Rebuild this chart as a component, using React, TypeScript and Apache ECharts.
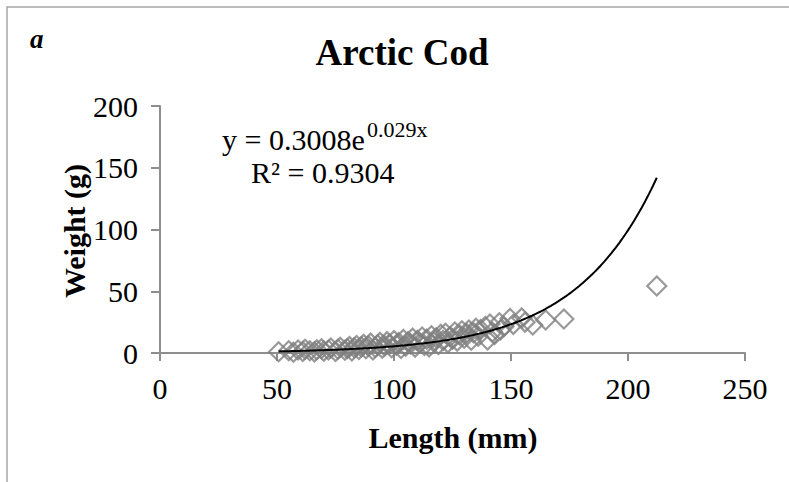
import React, { useEffect, useRef } from "react";
import * as echarts from "echarts";

// Scatter data: fish length (mm) and weight (g)
const lengthMm = [
  50.7, 55, 57, 59, 61, 62, 64, 66, 67, 69, 70, 72, 73, 75, 76, 77, 79, 80, 81, 82,
  83, 84, 85, 86, 87, 88, 89, 90, 91, 92, 93, 94, 95, 96, 97, 98, 99, 100, 101, 102,
  103, 104, 105, 106, 107, 108, 109, 110, 111, 112, 113, 114, 115, 116, 117, 118, 119, 120, 121, 122,
  123, 124, 125, 126, 127, 128, 129, 130, 131, 132, 133, 134, 135, 136, 137, 139, 140, 141, 142, 143,
  145, 145.5, 147, 149.6, 151, 154.6, 156, 159.3, 164.8, 172.6, 212.3,
];
const weightG = [
  1.0, 1.8, 0.6, 2.4, 1.2, 3.0, 1.8, 0.9, 2.6, 3.4, 1.5, 2.4, 4.0, 1.2, 3.0, 4.6, 2.2, 3.6, 5.2, 1.6,
  4.2, 6.0, 2.8, 5.0, 7.0, 3.4, 5.8, 8.0, 2.4, 4.4, 6.6, 8.6, 3.8, 5.8, 9.2, 7.2, 4.2, 10.0, 6.4, 8.4,
  3.6, 11.0, 5.6, 9.2, 7.4, 12.0, 4.8, 10.2, 8.0, 13.0, 6.2, 11.2, 5.0, 14.0, 9.0, 12.4, 7.0, 15.2, 10.2, 16.0,
  8.2, 13.2, 11.2, 17.0, 9.6, 14.6, 18.0, 12.0, 15.8, 18.6, 10.4, 16.4, 20.0, 13.6, 19.0, 21.5, 10.6, 23.5, 17.0, 15.0,
  24.5, 18.6, 21.5, 28.0, 23.2, 28.4, 25.0, 22.7, 26.7, 27.5, 54.2,
];

// Exponential trendline shown in the chart: y = 0.3008 e^(0.029 x)
const trendA = 0.3008;
const trendB = 0.029;

const titleText = "Arctic Cod";
const panelLabel = "a";
const xAxisName = "Length (mm)";
const yAxisName = "Weight (g)";
const eqMain = "y = 0.3008e";
const eqSup = "0.029x";
const eqR2 = "R\u00B2 = 0.9304";

const SERIF = '"Liberation Serif", "Times New Roman", Times, serif';

export default function App() {
  const ref = useRef<HTMLDivElement>(null);
  useEffect(() => {
    if (!ref.current) return;
    const chart = echarts.init(ref.current, null, { renderer: "svg" });

    const scatterData = lengthMm.map((x, i) => [x, weightG[i]]);
    const xMin = Math.min(...lengthMm);
    const xMax = Math.max(...lengthMm);
    const trend: number[][] = [];
    const steps = 200;
    for (let i = 0; i <= steps; i++) {
      const x = xMin + ((xMax - xMin) * i) / steps;
      trend.push([x, trendA * Math.exp(trendB * x)]);
    }

    const axisColor = "#8e8e8e";

    chart.setOption({
      animation: false,
      backgroundColor: "#ffffff",
      grid: { left: 160, right: 44, top: 106, bottom: 129 },
      xAxis: {
        type: "value",
        min: 0,
        max: 250,
        interval: 50,
        axisLine: { show: true, onZero: false, lineStyle: { color: axisColor, width: 2 } },
        axisTick: { show: true, length: 8, lineStyle: { color: axisColor, width: 2 } },
        splitLine: { show: false },
        axisLabel: { color: "#000", fontFamily: SERIF, fontSize: 30, margin: 20 },
      },
      yAxis: {
        type: "value",
        min: 0,
        max: 200,
        interval: 50,
        axisLine: { show: true, lineStyle: { color: axisColor, width: 2 } },
        axisTick: { show: true, length: 9, lineStyle: { color: axisColor, width: 2 } },
        splitLine: { show: false },
        axisLabel: { color: "#000", fontFamily: SERIF, fontSize: 30, margin: 22 },
      },
      series: [
        {
          type: "scatter",
          data: scatterData,
          symbol: "diamond",
          symbolSize: 19,
          itemStyle: { color: "rgba(0,0,0,0)", borderColor: "#7f7f7f", borderWidth: 2.2 },
          z: 2,
        },
        {
          type: "line",
          data: trend,
          showSymbol: false,
          symbol: "none",
          smooth: false,
          lineStyle: { color: "#000", width: 2 },
          z: 3,
        },
      ],
      graphic: [
        {
          type: "rect",
          shape: { x: 7, y: 7, width: 820, height: 520 },
          style: { fill: "none", stroke: "#a6a6a6", lineWidth: 1.5 },
          silent: true,
        },
        {
          type: "text",
          x: 30,
          y: 39,
          style: {
            text: panelLabel,
            font: `italic bold 27px ${SERIF}`,
            fill: "#000",
            textAlign: "left",
            verticalAlign: "middle",
          },
        },
        {
          type: "text",
          x: 402,
          y: 52,
          style: {
            text: titleText,
            font: `bold 37px ${SERIF}`,
            fill: "#000",
            textAlign: "center",
            verticalAlign: "middle",
          },
        },
        {
          type: "text",
          x: 222,
          y: 139,
          style: {
            text: eqMain,
            font: `30px ${SERIF}`,
            fill: "#000",
            textAlign: "left",
            verticalAlign: "middle",
          },
        },
        {
          type: "text",
          x: 367,
          y: 129,
          style: {
            text: eqSup,
            font: `22px ${SERIF}`,
            fill: "#000",
            textAlign: "left",
            verticalAlign: "middle",
          },
        },
        {
          type: "text",
          x: 251,
          y: 172,
          style: {
            text: eqR2,
            font: `30px ${SERIF}`,
            fill: "#000",
            textAlign: "left",
            verticalAlign: "middle",
          },
        },
        {
          type: "text",
          x: 453,
          y: 437,
          style: {
            text: xAxisName,
            font: `bold 30px ${SERIF}`,
            fill: "#000",
            textAlign: "center",
            verticalAlign: "middle",
          },
        },
        {
          type: "text",
          x: 74,
          y: 231,
          rotation: Math.PI / 2,
          style: {
            text: yAxisName,
            font: `bold 30px ${SERIF}`,
            fill: "#000",
            textAlign: "center",
            verticalAlign: "middle",
          },
        },
      ],
    });
    return () => chart.dispose();
  }, []);
  return (
    <div
      ref={ref}
      style={{ position: "fixed", left: 0, top: 0, width: 789, height: 482, background: "#fff" }}
    />
  );
}
